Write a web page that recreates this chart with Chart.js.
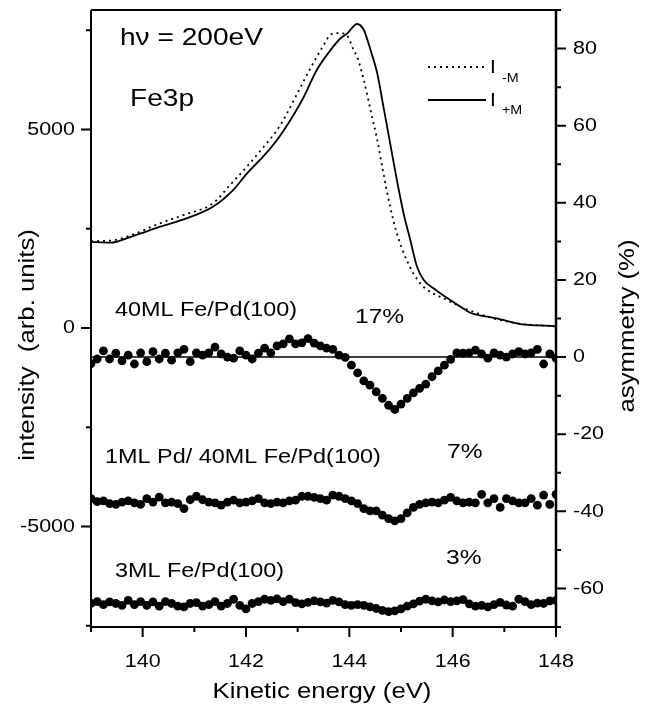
<!DOCTYPE html>
<html>
<head>
<meta charset="utf-8">
<script src="https://cdn.jsdelivr.net/npm/chart.js@4.4.1/dist/chart.umd.min.js"></script>
<style>
  body { margin: 0; background: #fff; }
</style>
</head>
<body>
<canvas id="fig" width="647" height="707"></canvas>
<script>
// spectra (left axis, arb. units)
const plusEnergy = [139.0, 139.37, 139.81, 140.34, 140.85, 141.36, 141.75, 142.02, 142.33, 142.6, 142.86, 143.11, 143.37, 143.59, 143.83, 143.96, 144.15, 144.28, 144.41, 144.54, 144.66, 144.79, 144.92, 145.05, 145.18, 145.31, 145.44, 145.63, 145.76, 146.15, 146.34, 146.67, 146.93, 147.31, 147.96, 148.0]
const plusIntensity = [2170, 2150, 2317, 2552, 2763, 3056, 3476, 3897, 4315, 4736, 5240, 5800, 6499, 6920, 7298, 7420, 7658, 7507, 7003, 6416, 5575, 4652, 3728, 2889, 2217, 1544, 1209, 1000, 874, 537, 385, 285, 219, 100, 50, 45]

const minusEnergy = [139.0, 139.37, 139.8, 140.3, 140.8, 141.36, 141.69, 142.0, 142.34, 142.66, 142.97, 143.23, 143.49, 143.63, 143.75, 143.88, 143.99, 144.08, 144.15, 144.28, 144.41, 144.54, 144.66, 144.79, 144.92, 145.11, 145.37, 145.89, 146.3, 146.8, 147.3, 148.0]
const minusIntensity = [2190, 2200, 2350, 2620, 2850, 3140, 3600, 4040, 4560, 5100, 5850, 6500, 7100, 7380, 7430, 7423, 7298, 7003, 6834, 6247, 5491, 4736, 3897, 3056, 2385, 1713, 1126, 705, 460, 240, 110, 40]

// asymmetry curves (right axis, %, already offset as plotted)
const asymStart = 139.0
const asymStep = 0.12
const asym40ML = [-1.7, -0.5, 1.6, -0.5, 1.0, -1.0, 0.5, -1.8, 1.1, -1.2,
  1.4, -0.5, 1.0, -0.8, 1.1, 2.0, -1.2, 1.1, 0.5, 1.1,
  2.6, 0.8, 0.0, -0.3, 1.6, 0.5, -0.5, 1.0, 2.3, 1.1,
  2.9, 3.4, 4.7, 3.4, 3.7, 4.8, 3.6, 2.9, 2.3,
  2.0, 0.5, -0.1, -2.1, -4.1, -6.2, -7.3, -9.0, -10.7, -12.5,
  -13.6, -12.2, -10.7, -9.3, -8.1, -7.0, -5.1, -3.6, -2.1, -0.6,
  1.1, 1.0, 1.1, 1.8, 0.8, -0.3, 1.1, 0.5, 0.0, 0.8,
  1.4, 0.8, 1.1, 2.0, -1.8, 0.8, -0.3]
const asym1MLPd = [-36.7, -37.5, -37.3, -38.0, -38.2, -37.6, -37.3, -37.8, -38.2, -36.7,
  -37.6, -36.3, -37.8, -37.6, -38.0, -39.3, -37.0, -36.1, -37.0, -37.6,
  -37.8, -38.4, -37.6, -37.1, -37.8, -37.6, -37.3, -36.7, -37.8, -38.0,
  -37.6, -37.8, -37.3, -37.1, -36.1, -36.1, -36.4, -36.7, -37.1,
  -35.8, -36.1, -36.7, -37.3, -38.0, -39.3, -39.9, -39.9, -41.0, -41.9,
  -42.5, -41.9, -40.4, -39.0, -38.2, -37.8, -37.6, -37.8, -37.1, -36.4,
  -37.3, -37.8, -37.6, -37.8, -35.6, -37.8, -36.7, -39.0, -36.7, -37.3,
  -37.8, -37.8, -36.7, -38.4, -35.8, -38.2, -35.6]
const asym3ML = [-63.9, -63.4, -64.2, -63.5, -63.9, -64.4, -63.1, -64.2, -63.4, -64.4,
  -63.5, -64.6, -63.4, -63.9, -64.6, -64.8, -63.9, -63.7, -64.6, -64.2,
  -63.4, -64.6, -63.9, -62.8, -64.4, -65.3, -63.9, -63.4, -62.8, -63.1,
  -62.7, -63.4, -62.8, -63.7, -64.0, -63.6, -63.2, -63.5, -63.8,
  -63.1, -63.5, -64.2, -64.4, -64.2, -64.4, -64.8, -65.2, -65.7, -66.0,
  -65.8, -65.3, -64.6, -64.0, -63.3, -62.8, -63.2, -63.5, -63.0, -63.4,
  -63.2, -62.9, -64.0, -64.6, -64.4, -64.8, -64.2, -63.6, -64.3, -64.6,
  -62.8, -63.4, -64.2, -63.8, -63.9, -63.2, -63.1]

const zeroLine = [0, 0]
const zeroEnergy = [139, 148]

// tick positions (labelled ones are the multiples of 2, 5000, 20)
const energyTicks = [139, 140, 141, 142, 143, 144, 145, 146, 147, 148]
const intensityTicks = [-7500, -5000, -2500, 0, 2500, 5000, 7500]
const asymTicks = [-70, -60, -50, -40, -30, -20, -10, 0, 10, 20, 30, 40, 50, 60, 70, 80, 90]

function pairs(xs, ys) {
  return ys.map((y, i) => ({ x: xs[i], y: y }))
}
function gridPairs(ys) {
  return ys.map((y, i) => ({ x: asymStart + i * asymStep, y: y }))
}

const FONT = '"Liberation Sans", Arial, sans-serif'

function putText(ctx, str, x, y, size, align, sx, rot) {
  ctx.save()
  ctx.translate(x, y)
  if (rot) ctx.rotate(rot)
  ctx.scale(sx, 1)
  ctx.font = size + 'px ' + FONT
  ctx.textAlign = align
  ctx.textBaseline = 'middle'
  ctx.fillStyle = '#000'
  ctx.fillText(str, 0, 0)
  ctx.restore()
}

// frame, ticks (major/minor), tick labels and all the figure text
const figText = {
  id: 'figText',
  afterDraw(chart) {
    const ctx = chart.ctx
    const a = chart.chartArea
    const sx = chart.scales.x
    const yl = chart.scales.yL
    const yr = chart.scales.yR

    ctx.save()
    ctx.strokeStyle = '#000'
    ctx.lineWidth = 2
    ctx.beginPath()
    ctx.moveTo(a.left, a.top); ctx.lineTo(a.right, a.top)
    ctx.moveTo(a.left, a.top); ctx.lineTo(a.left, a.bottom)
    ctx.moveTo(a.left - 1, a.bottom); ctx.lineTo(a.right + 1, a.bottom)
    ctx.stroke()
    ctx.lineWidth = 2.5
    ctx.beginPath()
    ctx.moveTo(a.right, a.top); ctx.lineTo(a.right, a.bottom)
    ctx.stroke()

    ctx.lineWidth = 2
    ctx.beginPath()
    sx.ticks.forEach(t => {
      const p = sx.getPixelForValue(t.value)
      const major = t.value % 2 === 0
      ctx.moveTo(p, a.bottom); ctx.lineTo(p, a.bottom + (major ? 10 : 5))
      if (major) putText(ctx, String(t.value), p, 662, 19, 'center', 1.13)
    })
    yl.ticks.forEach(t => {
      const p = yl.getPixelForValue(t.value)
      const major = t.value % 5000 === 0
      ctx.moveTo(a.left, p); ctx.lineTo(a.left - (major ? 10 : 5), p)
      if (major) putText(ctx, String(t.value), 75, p, 19, 'right', 1.13)
    })
    yr.ticks.forEach(t => {
      const p = yr.getPixelForValue(t.value)
      const major = t.value % 20 === 0
      ctx.moveTo(a.right, p); ctx.lineTo(a.right + (major ? 10 : 5), p)
      if (major) putText(ctx, String(t.value), 573, p, 19, 'left', 1.13)
    })
    ctx.stroke()

    // axis titles
    putText(ctx, 'intensity  (arb. units)', 28, 345, 22, 'center', 1.17, -Math.PI / 2)
    putText(ctx, 'asymmetry (%)', 628, 326, 22, 'center', 1.17, -Math.PI / 2)
    putText(ctx, 'Kinetic energy (eV)', 322, 692, 22, 'center', 1.17)

    // annotations
    putText(ctx, 'h\u03bd = 200eV', 120, 38, 24, 'left', 1.17)
    putText(ctx, 'Fe3p', 130, 99, 24, 'left', 1.17)
    putText(ctx, '40ML Fe/Pd(100)', 115, 310, 20, 'left', 1.17)
    putText(ctx, '17%', 355, 317, 21, 'left', 1.17)
    putText(ctx, '1ML Pd/ 40ML Fe/Pd(100)', 105, 457, 20, 'left', 1.17)
    putText(ctx, '7%', 447, 452, 21, 'left', 1.17)
    putText(ctx, '3ML Fe/Pd(100)', 115, 571, 20, 'left', 1.17)
    putText(ctx, '3%', 446, 558, 21, 'left', 1.17)

    // legend
    ctx.lineWidth = 1.8
    ctx.setLineDash([2, 4])
    ctx.beginPath(); ctx.moveTo(428, 67); ctx.lineTo(486, 67); ctx.stroke()
    ctx.setLineDash([])
    ctx.beginPath(); ctx.moveTo(428, 100); ctx.lineTo(486, 100); ctx.stroke()
    putText(ctx, 'I', 490, 68, 19, 'left', 1.1)
    putText(ctx, '-M', 502, 78, 13, 'left', 1.1)
    putText(ctx, 'I', 490, 101, 19, 'left', 1.1)
    putText(ctx, '+M', 502, 110, 13, 'left', 1.1)
    ctx.restore()
  }
}

const dotStyle = {
  showLine: false,
  pointRadius: 4.4,
  pointBackgroundColor: '#000',
  pointBorderWidth: 0,
  yAxisID: 'yR'
}

function setTicks(list) {
  return s => { s.ticks = list.map(v => ({ value: v })) }
}

let fig = new Chart("fig", {
  type: "scatter",
  data: {
    datasets: [{
      label: 'zero',
      data: pairs(zeroEnergy, zeroLine),
      showLine: true,
      borderColor: '#000',
      borderWidth: 1.4,
      pointRadius: 0,
      yAxisID: 'yR'
    }, {
      label: 'I+M',
      data: pairs(plusEnergy, plusIntensity),
      showLine: true,
      borderColor: '#000',
      borderWidth: 1.8,
      pointRadius: 0,
      cubicInterpolationMode: 'monotone',
      yAxisID: 'yL'
    }, {
      label: 'I-M',
      data: pairs(minusEnergy, minusIntensity),
      showLine: true,
      borderColor: '#000',
      borderWidth: 1.8,
      borderDash: [2, 4],
      pointRadius: 0,
      cubicInterpolationMode: 'monotone',
      yAxisID: 'yL'
    },
    Object.assign({ label: '40ML', data: gridPairs(asym40ML) }, dotStyle),
    Object.assign({ label: '1ML Pd', data: gridPairs(asym1MLPd) }, dotStyle),
    Object.assign({ label: '3ML', data: gridPairs(asym3ML) }, dotStyle)]
  },
  options: {
    responsive: false,
    animation: false,
    devicePixelRatio: 1,
    layout: { padding: { top: 10, left: 0, right: 0, bottom: 0 } },
    plugins: { legend: { display: false }, tooltip: { enabled: false } },
    scales: {
      x: {
        type: 'linear', position: 'bottom', min: 139, max: 148,
        ticks: { display: false },
        grid: { display: false }, border: { display: false },
        afterBuildTicks: setTicks(energyTicks),
        afterFit: s => { s.height = 80 }
      },
      yL: {
        type: 'linear', position: 'left', min: -7530, max: 8010,
        ticks: { display: false },
        grid: { display: false }, border: { display: false },
        afterBuildTicks: setTicks(intensityTicks),
        afterFit: s => { s.width = 91 }
      },
      yR: {
        type: 'linear', position: 'right', min: -70, max: 90,
        ticks: { display: false },
        grid: { display: false }, border: { display: false },
        afterBuildTicks: setTicks(asymTicks),
        afterFit: s => { s.width = 91 }
      }
    }
  },
  plugins: [figText]
});
</script>
</body>
</html>
